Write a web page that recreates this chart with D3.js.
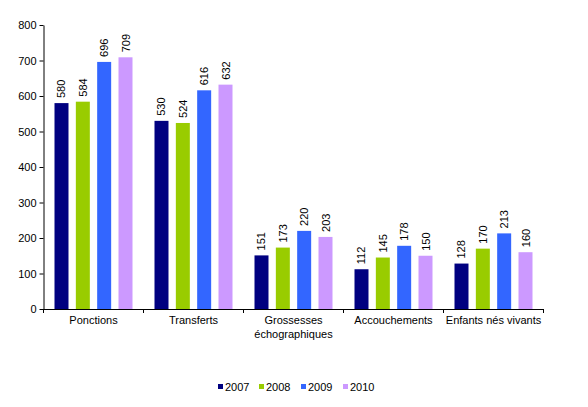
<!DOCTYPE html>
<html><head><meta charset="utf-8">
<script src="https://cdn.jsdelivr.net/npm/d3@7"></script>
<style>body{margin:0;background:#fff}svg{display:block}text{font-family:"Liberation Sans",Arial,sans-serif;fill:#000}</style>
</head><body>
<svg id="c" width="588" height="407"></svg>
<script>
const categories = [["Ponctions"],["Transferts"],["Grossesses","échographiques"],["Accouchements"],["Enfants nés vivants"]];
const years = ["2007","2008","2009","2010"];
const v2007 = [580,530,151,112,128];
const v2008 = [584,524,173,145,170];
const v2009 = [696,616,220,178,213];
const v2010 = [709,632,203,150,160];
const yTicks = [0,100,200,300,400,500,600,700,800];
const colors = ["#000080","#99CC00","#3366FF","#CC99FF"];
const series = [v2007,v2008,v2009,v2010];

const svg = d3.select("#c");
const mLeft = 43.5, mRight = 543.5, mTop = 25, mBottom = 309;
const x0 = d3.scaleBand().domain(d3.range(categories.length)).range([mLeft,mRight]).padding(0);
const x1 = d3.scaleBand().domain(d3.range(years.length)).range([11,89]).paddingInner(0.344).paddingOuter(0);
const y = d3.scaleLinear().domain([0,800]).range([mBottom,mTop]);

// bars
const g = svg.append("g");
series.forEach((s,si)=>{
  s.forEach((v,ci)=>{
    const bx = x0(ci)+x1(si);
    g.append("rect").attr("x",bx).attr("y",y(v)).attr("width",x1.bandwidth()).attr("height",mBottom-y(v)).attr("fill",colors[si]);
    const cx = bx + x1.bandwidth()/2 + 4;
    g.append("text").attr("transform",`translate(${cx},${y(v)-5}) rotate(-90)`)
      .attr("font-size","11px").attr("text-anchor","start").text(v);
  });
});

// y axis
const ya = svg.append("g").attr("transform",`translate(${mLeft},0)`)
  .call(d3.axisLeft(y).tickValues(yTicks).tickSize(4).tickSizeOuter(0));
ya.select(".domain").attr("stroke","#000");
ya.selectAll(".tick line").attr("stroke","#000");
ya.selectAll(".tick text").attr("font-size","11px").attr("font-family","Liberation Sans, Arial").attr("fill","#000").attr("x",-7);

// x axis
const xa = svg.append("g").attr("transform",`translate(0,${mBottom})`);
xa.append("line").attr("x1",mLeft).attr("x2",mRight).attr("y1",0.5).attr("y2",0.5).attr("stroke","#000");
d3.range(categories.length+1).forEach(i=>{
  const tx = i<categories.length ? x0(i) : mRight;
  xa.append("line").attr("x1",tx).attr("x2",tx).attr("y1",0).attr("y2",4).attr("stroke","#000");
});
categories.forEach((lines,ci)=>{
  const t = xa.append("text").attr("x",x0(ci)+x0.bandwidth()/2).attr("y",15).attr("text-anchor","middle").attr("font-size","11px");
  lines.forEach((l,li)=>t.append("tspan").attr("x",x0(ci)+x0.bandwidth()/2).attr("dy",li===0?0:14).text(l));
});

// legend
const legX = [218,259,301,343];
years.forEach((yr,i)=>{
  svg.append("rect").attr("x",legX[i]).attr("y",384).attr("width",5).attr("height",5).attr("fill",colors[i]);
  svg.append("text").attr("x",legX[i]+7).attr("y",391).attr("font-size","11px").text(yr);
});
</script>
</body></html>
